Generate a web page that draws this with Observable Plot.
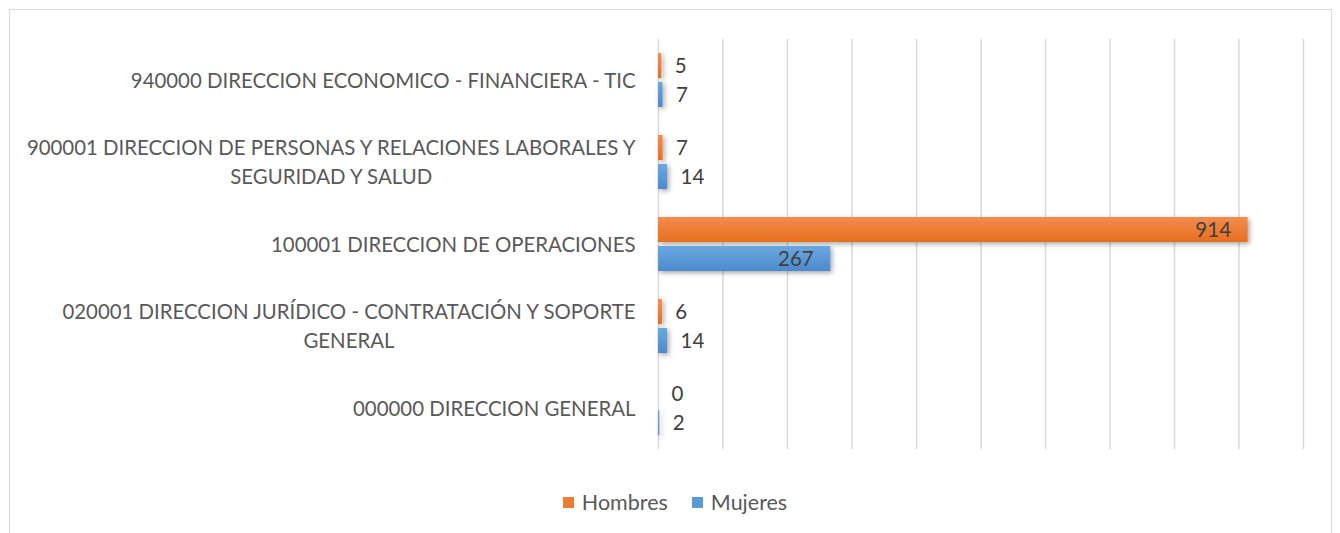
<!DOCTYPE html>
<html>
<head>
<meta charset="utf-8">
<script src="https://cdn.jsdelivr.net/npm/d3@7"></script>
<script src="https://cdn.jsdelivr.net/npm/@observablehq/plot@0.6"></script>
<style>
  html, body { margin: 0; padding: 0; background: #fff; width: 1340px; height: 533px; overflow: hidden; }
  #frame { position: absolute; left: 9px; top: 9px; width: 1323px; height: 540px; border: 1.5px solid #D9D9D9; box-sizing: border-box; }
  #chart { position: absolute; left: 0; top: 0; }
  #legend { position: absolute; top: 489px; left: 0; width: 1350px; display: flex; justify-content: center; gap: 24px;
            font-family: Lato, sans-serif; font-size: 21.5px; color: #595959; }
  #legend .item { display: flex; align-items: center; gap: 8px; }
  #legend .sw { width: 11px; height: 11px; }
  .bars { filter: drop-shadow(2px 2px 2.5px rgba(0,0,0,0.35)); }
</style>
</head>
<body>
<div id="frame"></div>
<div id="chart"></div>
<div id="legend"></div>
<script>
const categories = [
  "940000 DIRECCION ECONOMICO - FINANCIERA - TIC",
  "900001 DIRECCION DE PERSONAS Y RELACIONES LABORALES Y SEGURIDAD Y SALUD",
  "100001 DIRECCION DE OPERACIONES",
  "020001 DIRECCION JURÍDICO - CONTRATACIÓN Y SOPORTE GENERAL",
  "000000 DIRECCION GENERAL"
];
const categoryLabels = [
  "940000 DIRECCION ECONOMICO - FINANCIERA - TIC",
  "900001 DIRECCION DE PERSONAS Y RELACIONES LABORALES Y\nSEGURIDAD Y SALUD",
  "100001 DIRECCION DE OPERACIONES",
  "020001 DIRECCION JURÍDICO - CONTRATACIÓN Y SOPORTE\nGENERAL",
  "000000 DIRECCION GENERAL"
];
const series = ["Hombres", "Mujeres"];
const hombres = [5, 7, 914, 6, 0];
const mujeres = [7, 14, 267, 14, 2];
const seriesColors = ["#ED7D31", "#5B9BD5"];

const data = [];
categories.forEach((c, i) => {
  data.push({category: c, series: "Hombres", value: hombres[i]});
  data.push({category: c, series: "Mujeres", value: mujeres[i]});
});
const labelRows = categories.map((c, i) => ({category: c, label: categoryLabels[i]}));

const font = "Lato, sans-serif";

const chart = Plot.plot({
  width: 1340,
  height: 470,
  marginTop: 38,
  marginBottom: 20,
  marginLeft: 658,
  marginRight: 37,
  style: {fontFamily: font, background: "transparent"},
  x: {domain: [0, 1000], axis: null},
  fy: {domain: categories, padding: 0, axis: null},
  y: {domain: series, paddingInner: 0.136, paddingOuter: 0.4645, axis: null},
  color: {domain: series, range: ["url(#gradH)", "url(#gradM)"]},
  marks: [
    Plot.gridX({ticks: 10, stroke: "#D9D9D9", strokeOpacity: 1, strokeWidth: 1.5}),
    Plot.barX(data, {fy: "category", y: "series", x: "value", fill: "series", className: "bars"}),
    Plot.text(data, {filter: d => d.value > 100, fy: "category", y: "series", x: "value", text: "value",
      textAnchor: "end", dx: -17, fontSize: 20.5, fill: "#404040"}),
    Plot.text(data, {filter: d => d.value <= 100, fy: "category", y: "series", x: "value", text: "value",
      textAnchor: "start", dx: 13, fontSize: 20.5, fill: "#404040"}),
    Plot.text(labelRows, {fy: "category", text: "label", frameAnchor: "left", dx: -23, dy: -2, textAnchor: "end",
      lineAnchor: "middle", lineHeight: 1.42, fontSize: 20.4, fill: "#595959", className: "cat-labels"})
  ]
});

// gradients for bars
const svg = d3.select(chart);
const defs = svg.insert("defs", ":first-child");
[["gradH", "#F28C4E", "#E86F1E"], ["gradM", "#6BA8E0", "#4B8ACD"]].forEach(([id, c1, c2]) => {
  const g = defs.append("linearGradient").attr("id", id).attr("x1", 0).attr("y1", 0).attr("x2", 0).attr("y2", 1);
  g.append("stop").attr("offset", "0%").attr("stop-color", c1);
  g.append("stop").attr("offset", "100%").attr("stop-color", c2);
});

document.getElementById("chart").appendChild(chart);

// center wrapped category label lines under their longest line (right edge kept)
d3.select(chart).selectAll(".cat-labels text").each(function () {
  const tspans = this.querySelectorAll("tspan");
  if (tspans.length < 2) return;
  let maxW = 0;
  tspans.forEach(t => { maxW = Math.max(maxW, t.getComputedTextLength()); });
  this.setAttribute("text-anchor", "middle");
  tspans.forEach(t => t.setAttribute("x", -maxW / 2));
});

// legend
const legend = d3.select("#legend");
series.forEach((s, i) => {
  const item = legend.append("div").attr("class", "item");
  item.append("div").attr("class", "sw").style("background", seriesColors[i]);
  item.append("span").text(s);
});
</script>
</body>
</html>
